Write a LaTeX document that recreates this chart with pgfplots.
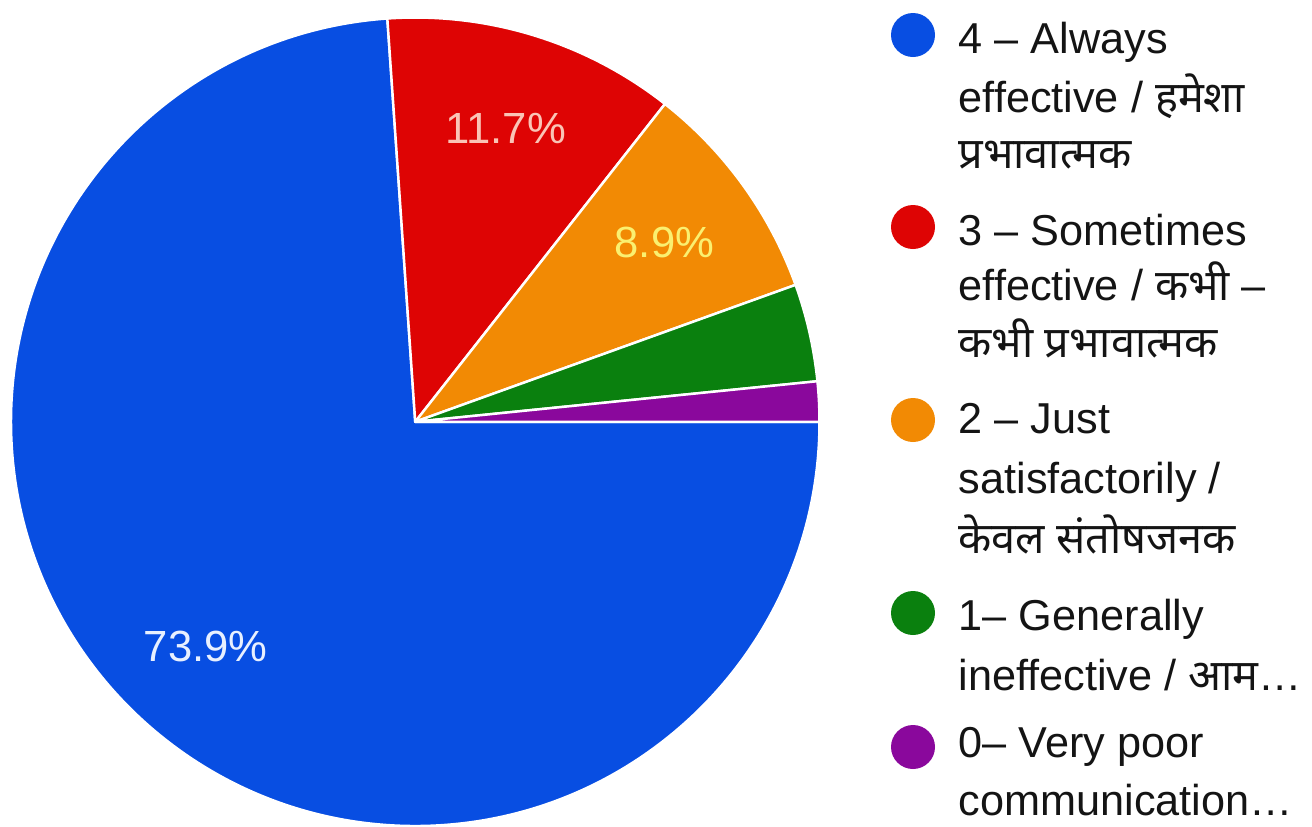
\documentclass[border=0pt]{standalone}
\usepackage{pgfplots}
\pgfplotsset{compat=1.18}
\usepackage{pgfplotstable}
\usepackage{fontspec}
\setmainfont{Liberation Sans}
\newfontfamily\deva[Script=Devanagari]{Noto Sans}

\definecolor{pblue}{RGB}{8,78,226}
\definecolor{pred}{RGB}{222,4,4}
\definecolor{porange}{RGB}{242,138,4}
\definecolor{pgreen}{RGB}{10,128,14}
\definecolor{ppurple}{RGB}{138,8,156}
\colorlet{c0}{pblue}
\colorlet{c1}{pred}
\colorlet{c2}{porange}
\colorlet{c3}{pgreen}
\colorlet{c4}{ppurple}
\definecolor{lab0}{RGB}{232,240,255}
\definecolor{lab1}{RGB}{250,196,182}
\definecolor{lab2}{RGB}{250,240,112}
\definecolor{txt}{RGB}{20,20,20}

% share of answers, in percent
\pgfplotstableread{
share
73.9
11.7
8.9
3.9
1.6
}\piedata

% start, end and middle angle of each slice (clockwise from 3 o'clock)
\gdef\cum{0}%
\pgfplotstableforeachcolumnelement{share}\of\piedata\as\v{%
  \pgfmathsetmacro\sa{-3.6*\cum}%
  \pgfmathsetmacro\ea{-3.6*(\cum+\v)}%
  \pgfmathsetmacro\ma{(\sa+\ea)/2}%
  \expandafter\xdef\csname sa\pgfplotstablerow\endcsname{\sa}%
  \expandafter\xdef\csname ea\pgfplotstablerow\endcsname{\ea}%
  \expandafter\xdef\csname ma\pgfplotstablerow\endcsname{\ma}%
  \expandafter\xdef\csname v\pgfplotstablerow\endcsname{\v}%
  \pgfmathsetmacro\newcum{\cum+\v}%
  \xdef\cum{\newcum}%
}

\newcommand\legfont{\fontsize{12.3}{14}\selectfont}
\newcommand\labfont{\fontsize{12.4}{14}\selectfont}

\begin{document}
\begin{tikzpicture}[x=0.01cm,y=0.01cm]
\useasboundingbox (0,0) rectangle (1312,826);

\begin{axis}[
  at={(4.15cm,4.04cm)}, anchor=center,
  scale only axis, width=8.08cm, height=8.08cm,
  xmin=-1, xmax=1, ymin=-1, ymax=1,
  hide axis, clip=false,
]
\pgfplotsinvokeforeach{0,...,4}{%
  \filldraw[fill=c#1, draw=white, line width=0.7pt, line join=round]
    (axis cs:0,0) -- (axis cs:{cos(\csname sa#1\endcsname)},{sin(\csname sa#1\endcsname)})
    arc[start angle=\csname sa#1\endcsname, end angle=\csname ea#1\endcsname, radius=4.04cm]
    -- cycle;
}
\pgfplotsinvokeforeach{0,1,2}{%
  \node[text=lab#1, font=\labfont]
    at (axis cs:{0.76*cos(\csname ma#1\endcsname)},{0.76*sin(\csname ma#1\endcsname)})
    {\csname v#1\endcsname\%};
}
\end{axis}

% legend
\fill[pblue]   (913,791) circle[radius=22];
\fill[pred]    (913,599) circle[radius=22];
\fill[porange] (913,406) circle[radius=22];
\fill[pgreen]  (913,213) circle[radius=22];
\fill[ppurple] (913,79)  circle[radius=22];

\begin{scope}[every node/.style={anchor=base west, inner sep=0pt, text=txt, font=\legfont}]
\node at (958,773) {4 – Always};
\node at (958,714) {effective / {\deva हमेशा}};
\node at (958,658) {{\deva प्रभावात्मक}};
\node at (958,581) {3 – Sometimes};
\node at (958,526) {effective / {\deva कभी} –};
\node at (958,469) {{\deva कभी प्रभावात्मक}};
\node at (958,393) {2 – Just};
\node at (958,333) {satisfactorily /};
\node at (958,273) {{\deva केवल संतोषजनक}};
\node at (958,196) {1– Generally};
\node at (958,136) {ineffective / {\deva आम}…};
\node at (958,69)  {0– Very poor};
\node at (958,11)  {communication…};
\end{scope}
\end{tikzpicture}
\end{document}
